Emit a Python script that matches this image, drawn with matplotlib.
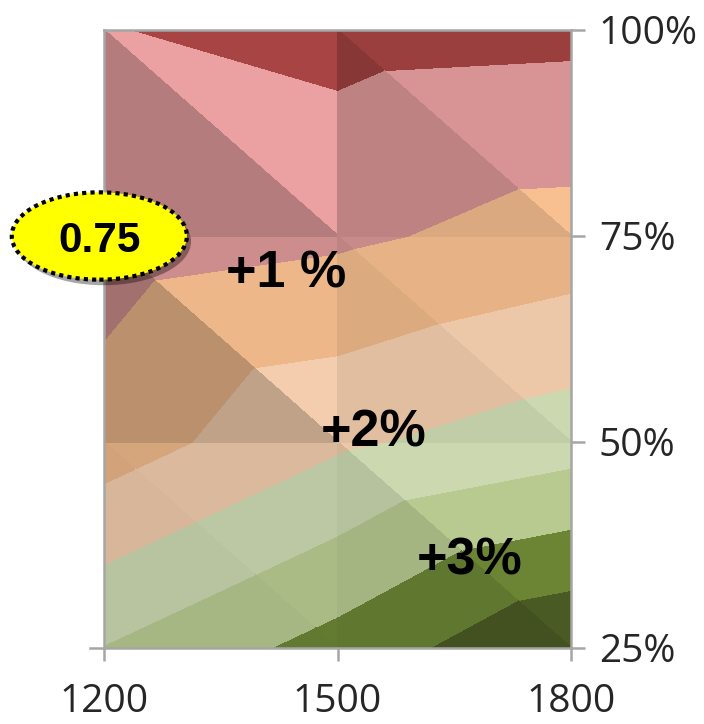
import numpy as np
import matplotlib.pyplot as plt
import matplotlib.tri as mtri
import matplotlib.patheffects as pe
from matplotlib.patches import Ellipse
from matplotlib.colors import to_rgb

# grid of the surface (top view of a 3-D surface chart)
years = [1200, 1500, 1800]
shares = [25, 50, 75, 100]

# surface height at each node, one list per share level
z_at_25 = [2.96, 1.61, 0.05]
z_at_50 = [5.51, 4.15, 3.42]
z_at_75 = [6.50, 6.17, 5.60]
z_at_100 = [6.95, 7.34, 7.24]

levels = [0, 1, 2, 3, 4, 5, 6, 7, 8]
band_colors = ['#506128', '#738F39', '#C6D99B', '#DAE8BD',
               '#FED7B5', '#F8C090', '#D89494', '#9A3F3E']

year_ticks = [1200, 1500, 1800]
share_ticks = [25, 50, 75, 100]
share_labels = ['25%', '50%', '75%', '100%']


plt.rcParams['font.family'] = ['Open Sans', 'DejaVu Sans']

fig = plt.figure(figsize=(7.04, 7.24), dpi=100)
ax = fig.add_axes([104 / 704, 76 / 724, 467 / 704, 618 / 724])

gx, gy = np.meshgrid(years, shares)
z = np.array([z_at_25, z_at_50, z_at_75, z_at_100])
x = gx.ravel().astype(float)
y = gy.ravel().astype(float)
zz = z.ravel()
ncol = len(years)

# every grid cell is cut in two along the top-left / bottom-right diagonal
tris = []
for r in range(len(shares) - 1):
    for c in range(ncol - 1):
        tl, tr = (r + 1) * ncol + c, (r + 1) * ncol + c + 1
        bl, br = r * ncol + c, r * ncol + c + 1
        tris.append([tl, tr, br])
        tris.append([tl, bl, br])

# facet lighting, same order as tris
light = [0.86, 0.845, 0.93, 0.835,
         0.955, 0.755, 0.93, 0.885,
         1.09, 0.835, 1.00, 0.88]

for tri, f in zip(tris, light):
    t = mtri.Triangulation(x, y, triangles=[tri])
    cols = [tuple(np.clip(np.array(to_rgb(c)) * f, 0, 1)) for c in band_colors]
    cs = ax.tricontourf(t, zz, levels=levels, colors=cols)
    cs.set_edgecolor('face')
    cs.set_linewidth(0.6)

ax.set_xlim(1200, 1800)
ax.set_ylim(25, 100)
ax.set_xticks(year_ticks)
ax.set_xticklabels([str(v) for v in year_ticks])
ax.yaxis.tick_right()
ax.set_yticks(share_ticks)
ax.set_yticklabels(share_labels)

grey = '#A6A6A6'
for s in ax.spines.values():
    s.set_color(grey)
    s.set_linewidth(1.8)
    s.set_zorder(3)
ax.tick_params(axis='x', direction='out', length=9, width=1.8, color=grey,
               pad=16, labelsize=28, labelcolor='#262626')
ax.tick_params(axis='y', right=True, left=False, direction='out', length=10,
               width=1.8, color=grey, pad=10, labelsize=28, labelcolor='#262626')
ax.plot([-0.03, 0], [0, 0], transform=ax.transAxes, color=grey, lw=1.8,
        clip_on=False)

# callout
ell = Ellipse((1194, 75), width=225, height=10.6, facecolor='#FFFF00',
              edgecolor='black', lw=3.0, linestyle=(0, (1, 1)),
              clip_on=False, zorder=6)
ell.set_path_effects([pe.SimplePatchShadow(offset=(3, -4), shadow_rgbFace='k',
                                           alpha=0.35), pe.Normal()])
ax.add_patch(ell)
ax.text(1194, 73.1, '0.75', ha='center', va='baseline', fontsize=30.5,
        fontweight='bold', family='Liberation Sans', zorder=7, clip_on=False)

ax.text(1434, 68.8, '+1 %', ha='center', va='baseline', fontsize=37.5,
        fontweight='bold', family='Liberation Sans', zorder=7)
ax.text(1547, 49.4, '+2%', ha='center', va='baseline', fontsize=37.5,
        fontweight='bold', family='Liberation Sans', zorder=7)
ax.text(1670, 33.9, '+3%', ha='center', va='baseline', fontsize=37.5,
        fontweight='bold', family='Liberation Sans', zorder=7)

fig.savefig('out.png', dpi=100)
